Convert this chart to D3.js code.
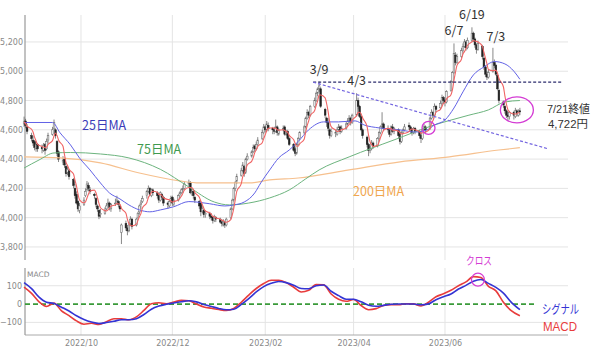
<!DOCTYPE html>
<html>
<head>
<meta charset="utf-8">
<script src="https://cdn.jsdelivr.net/npm/d3@7"></script>
<style>
  body { margin: 0; background: #fff; }
  svg { display: block; font-family: "Noto Sans CJK JP", "Noto Sans", sans-serif; }
</style>
</head>
<body>
<div id="chart"></div>
<script>
//Datos: velas diarias [apertura, máximo, mínimo, cierre]
const ohlc = [
  //Aug 24-26
  [4640,4690,4620,4655],[4660,4675,4610,4630],[4620,4640,4570,4590],
  //Aug 29 - Sep 2
  [4560,4580,4520,4540],[4530,4560,4490,4510],[4520,4530,4460,4480],[4470,4520,4450,4500],[4500,4510,4450,4470],
  [4480,4500,4440,4470],[4460,4510,4450,4490],[4500,4510,4430,4460],[4470,4540,4460,4520],[4530,4580,4510,4560],
  [4570,4620,4560,4600],[4610,4670,4600,4650],[4600,4610,4540,4560],[4520,4530,4420,4440],[4450,4460,4380,4400],
  [4380,4420,4360,4390],[4400,4410,4340,4360],[4350,4360,4280,4300],[4310,4350,4290,4330],[4320,4330,4260,4280],
  [4260,4270,4200,4220],[4200,4230,4130,4150],[4160,4180,4090,4100],[4110,4120,4040,4060],[4050,4100,4030,4080],
  //Oct
  [4090,4140,4080,4120],[4150,4200,4140,4180],[4190,4250,4180,4230],[4220,4240,4180,4200],[4190,4210,4160,4180],
  [4160,4170,4130,4150],[4130,4140,4070,4090],[4080,4090,4040,4060],[4050,4060,3990,4010],[4020,4060,4000,4030],
  [4030,4070,4020,4050],[4060,4100,4050,4080],[4090,4130,4080,4100],[4100,4110,4050,4070],[4060,4100,4040,4090],
  [4100,4130,4080,4100],[4110,4150,4100,4120],[4110,4120,4070,4090],[4080,4090,4040,4060],[3900,3960,3820,3950],
  //Nov
  [3960,3980,3910,3930],[3930,3950,3880,3910],[3910,3970,3900,3950],[3960,4010,3950,3990],[3990,4000,3920,3940],
  [3950,4000,3940,3990],[4000,4040,3990,4030],[4040,4090,4020,4080],[4090,4120,4060,4100],[4110,4150,4100,4130],
  [4150,4190,4130,4180],[4180,4220,4170,4200],[4200,4210,4150,4160],[4150,4200,4140,4190],[4190,4200,4150,4170],
  [4170,4180,4130,4150],[4150,4160,4100,4120],[4120,4180,4110,4170],[4160,4170,4120,4140],[4140,4150,4080,4100],
  [4100,4110,4060,4090],[4080,4120,4070,4110],[4110,4150,4100,4130],[4140,4150,4080,4100],[4090,4130,4080,4120],
  //Dec
  [4120,4160,4110,4150],[4150,4180,4130,4170],[4170,4200,4160,4190],[4190,4220,4170,4200],[4200,4250,4190,4230],
  [4230,4260,4210,4240],[4240,4250,4160,4170],[4170,4200,4150,4180],[4180,4190,4130,4150],[4140,4150,4100,4120],
  [4110,4120,4060,4080],[4100,4110,4010,4040],[4040,4080,4030,4060],[4050,4060,4000,4020],[4020,4050,4000,4030],
  [4030,4040,3990,4010],[4010,4030,3980,4000],[4000,4010,3960,3980],[3980,4020,3970,4010],[4000,4010,3970,3990],
  //Jan
  [3990,4000,3960,3970],[3970,3980,3940,3960],[3950,3990,3940,3975],[3970,3980,3930,3950],[3950,4000,3940,3990],
  [4000,4070,3990,4060],[4060,4130,4050,4120],[4120,4210,4110,4200],[4200,4250,4180,4240],[4250,4300,4230,4280],
  [4290,4340,4280,4320],[4320,4380,4310,4360],[4350,4360,4280,4300],[4310,4410,4300,4400],[4400,4440,4390,4420],
  [4420,4460,4410,4450],[4450,4500,4440,4480],[4490,4500,4450,4470],[4470,4520,4460,4500],[4500,4550,4490,4530],
  //Feb
  [4540,4600,4530,4580],[4580,4640,4570,4620],[4620,4630,4580,4600],[4600,4660,4590,4640],[4630,4650,4590,4610],
  [4610,4620,4570,4600],[4600,4620,4570,4590],[4590,4670,4580,4620],[4620,4630,4560,4580],[4570,4610,4560,4600],
  [4600,4630,4590,4610],[4620,4630,4560,4570],[4570,4600,4560,4590],[4590,4600,4530,4540],[4540,4550,4490,4500],
  [4500,4510,4450,4460],[4470,4480,4420,4440],[4440,4510,4430,4500],[4500,4550,4490,4540],[4540,4590,4530,4580],
  //Mar
  [4580,4630,4570,4620],[4620,4690,4610,4680],[4680,4740,4670,4720],[4720,4730,4680,4700],[4700,4770,4690,4760],
  [4760,4820,4750,4800],[4800,4860,4790,4850],[4850,4890,4830,4880],[4880,4930,4860,4900],[4880,4890,4750,4760],
  [4740,4750,4680,4700],[4680,4690,4620,4650],[4650,4680,4590,4610],[4600,4610,4540,4560],[4560,4610,4550,4590],
  [4580,4600,4550,4580],[4570,4620,4560,4600],[4600,4640,4590,4620],[4620,4630,4570,4590],[4590,4630,4580,4610],
  [4610,4650,4600,4640],[4640,4680,4630,4660],[4660,4700,4650,4680],[4680,4690,4630,4650],[4650,4710,4640,4700],
  //Apr
  [4700,4850,4690,4800],[4800,4820,4740,4760],[4760,4770,4680,4690],[4690,4700,4590,4600],[4600,4610,4540,4560],
  [4550,4560,4480,4500],[4500,4510,4420,4460],[4460,4490,4440,4470],[4470,4530,4460,4510],[4510,4520,4470,4490],
  [4490,4550,4480,4540],[4540,4590,4530,4580],[4580,4630,4570,4620],[4620,4720,4610,4640],[4640,4650,4590,4610],
  [4610,4630,4580,4600],[4600,4610,4550,4570],[4570,4630,4560,4620],[4620,4640,4580,4590],[4590,4620,4570,4610],
  //May
  [4600,4610,4540,4560],[4570,4590,4500,4520],[4520,4590,4510,4580],[4580,4610,4570,4600],[4600,4640,4590,4620],
  [4630,4650,4600,4620],[4620,4630,4580,4600],[4600,4610,4560,4580],[4580,4620,4570,4610],[4610,4620,4570,4590],
  [4590,4600,4540,4560],[4560,4570,4510,4540],[4540,4610,4530,4600],[4600,4640,4590,4620],[4620,4630,4580,4600],
  [4610,4690,4600,4680],[4680,4740,4670,4720],[4720,4730,4680,4700],[4700,4780,4690,4760],[4760,4770,4720,4740],
  [4750,4800,4740,4780],[4780,4840,4770,4820],[4820,4830,4780,4800],[4800,4810,4760,4790],[4790,4870,4780,4860],
  //Jun
  [4870,4940,4860,4930],[4930,5000,4920,4990],[4990,5190,4980,5120],[5110,5130,5040,5060],[5060,5120,5050,5100],
  [5100,5160,5090,5140],[5140,5190,5130,5170],[5170,5220,5160,5200],[5200,5210,5140,5160],[5160,5230,5150,5210],
  [5210,5300,5200,5260],[5260,5270,5200,5220],[5220,5230,5160,5180],[5180,5190,5120,5150],[5150,5210,5140,5190],
  [5170,5180,5080,5100],[5090,5100,5010,5030],[5030,5040,4960,4980],[4980,5000,4940,4960],[4960,5010,4950,4990],
  //Jul
  [5000,5160,4990,5060],[5060,5080,5020,5040],[5040,5050,4970,4980],[4970,4980,4870,4880],[4870,4880,4780,4800],
  [4790,4800,4750,4770],[4760,4770,4710,4730],[4730,4740,4680,4700],[4700,4720,4660,4690],[4690,4730,4670,4720],
  [4720,4730,4670,4700],[4690,4750,4680,4730],[4730,4740,4690,4710],[4700,4740,4690,4720],[4730,4750,4700,4722]
];

//Medias móviles (lecturas del gráfico)
const ma25 = [
  ["2022-08-24",4650],["2022-09-12",4650],["2022-09-17",4580],["2022-09-24",4497],["2022-09-30",4408],
  ["2022-10-07",4326],["2022-10-14",4237],["2022-10-20",4169],["2022-10-27",4128],["2022-11-02",4087],
  ["2022-11-09",4053],["2022-11-16",4040],["2022-11-23",4053],["2022-12-02",4075],["2022-12-12",4110],
  ["2022-12-19",4105],["2022-12-26",4095],["2023-01-05",4080],["2023-01-11",4087],["2023-01-18",4107],
  ["2023-01-25",4169],["2023-01-29",4237],["2023-02-04",4326],["2023-02-10",4408],["2023-02-17",4462],
  ["2023-02-23",4520],["2023-03-02",4600],["2023-03-12",4654],["2023-03-22",4654],["2023-04-02",4661],
  ["2023-04-08",4633],["2023-04-18",4613],["2023-05-02",4599],["2023-05-12",4585],["2023-05-20",4599],
  ["2023-05-25",4633],["2023-06-01",4667],["2023-06-07",4749],["2023-06-13",4859],["2023-06-20",4975],
  ["2023-06-27",5029],["2023-07-04",5066],["2023-07-11",5050],["2023-07-17",5000],["2023-07-21",4945]
];
const ma75 = [
  ["2022-08-24",4339],["2022-09-03",4394],["2022-09-13",4442],["2022-09-24",4445],["2022-10-14",4435],
  ["2022-11-02",4408],["2022-11-23",4330],["2022-12-12",4210],["2022-12-29",4107],["2023-01-08",4087],
  ["2023-01-21",4100],["2023-02-04",4135],["2023-02-17",4189],["2023-02-28",4265],["2023-03-09",4326],
  ["2023-03-29",4415],["2023-04-28",4531],["2023-05-24",4630],["2023-06-17",4700],["2023-06-30",4736],
  ["2023-07-11",4790],["2023-07-21",4800]
];
const ma200 = [
  ["2022-08-24",4415],["2022-09-17",4408],["2022-10-14",4374],["2022-11-09",4305],["2022-12-06",4251],
  ["2022-12-19",4237],["2023-01-21",4237],["2023-02-04",4258],["2023-02-23",4271],["2023-03-29",4326],
  ["2023-05-02",4381],["2023-06-04",4415],["2023-07-07",4462],["2023-07-21",4478]
];

//MACD y señal
const macdDates = ["2022-08-24","2022-08-29","2022-09-03","2022-09-08","2022-09-13","2022-09-18","2022-09-23","2022-09-28",
  "2022-10-03","2022-10-08","2022-10-13","2022-10-18","2022-10-23","2022-10-28","2022-11-02","2022-11-07","2022-11-12",
  "2022-11-17","2022-11-22","2022-11-27","2022-12-02","2022-12-07","2022-12-12","2022-12-17","2022-12-22","2022-12-27",
  "2023-01-01","2023-01-06","2023-01-11","2023-01-16","2023-01-21","2023-01-26","2023-01-31","2023-02-05","2023-02-10",
  "2023-02-15","2023-02-20","2023-02-25","2023-03-02","2023-03-07","2023-03-12","2023-03-17","2023-03-22","2023-03-27",
  "2023-04-01","2023-04-06","2023-04-11","2023-04-16","2023-04-21","2023-04-26","2023-05-01","2023-05-06","2023-05-11",
  "2023-05-16","2023-05-21","2023-05-26","2023-05-31","2023-06-05","2023-06-10","2023-06-15","2023-06-20","2023-06-25",
  "2023-06-30","2023-07-05","2023-07-10","2023-07-15","2023-07-21"];
const macdValues = [92,58,12,-13,5,-37,-63,-92,-110,-105,
  -112,-96,-80,-80,-86,-70,-35,2,7,2,
  11,20,18,0,-16,-23,-30,-35,-24,10,
  49,85,112,130,130,117,92,66,75,106,
  105,55,26,15,25,-8,-31,-25,-8,-3,
  -4,2,1,-11,10,40,56,75,100,121,
  150,145,97,72,10,-35,-64];
const signalValues = [117,84,38,10,3,-17,-38,-64,-84,-98,
  -106,-101,-94,-86,-86,-80,-57,-28,-11,-1,
  6,13,18,12,-2,-13,-24,-31,-28,-2,
  30,66,95,113,123,117,103,85,84,100,
  104,70,46,26,26,12,-6,-12,-7,-1,
  0,0,0,-4,1,24,40,55,82,102,
  125,134,113,91,60,12,-31];

//Ejes
const priceTicks = [3800,4000,4200,4400,4600,4800,5000,5200];
const macdTicks = [-100,0,100];
const monthTicks = ["2022-10-01","2022-12-01","2023-02-01","2023-04-01","2023-06-01"];

//Colores
const COLOR_MA5 = '#f06464', COLOR_MA25 = '#6262e6', COLOR_MA75 = '#6cb47e', COLOR_MA200 = '#f6c08e',
  COLOR_MACD = '#e83c3c', COLOR_SIGNAL = '#3434d4', COLOR_MARK = '#d43cd4', COLOR_GRID = '#e4e4e4';

const parse = d3.timeParse("%Y-%m-%d");
const width = 600, height = 348;
const main = {left: 25, right: 568, top: 15, bottom: 260};
const sub = {top: 270, bottom: 335};

//Días hábiles
const days = d3.timeDay.range(new Date(2022,7,24), new Date(2023,6,22))
  .filter(function(d) { return d.getDay() !== 0 && d.getDay() !== 6; });
const candles = ohlc.map(function(r, i) {
  return {date: days[i], o: r[0], h: r[1], l: r[2], c: r[3]};
});
const ma5 = candles.map(function(d, i) {
  return [d.date, d3.mean(candles.slice(Math.max(0, i - 4), i + 1), function(e) { return e.c; })];
});

const svg = d3.select("#chart").append("svg")
  .attr("width", width).attr("height", height);

let x = d3.scaleTime()
  .domain([new Date(2022,7,24,15), new Date(2023,7,22,3)])
  .range([main.left, main.right]);
let y = d3.scaleLinear().domain([3711, 5384]).range([main.bottom, main.top]);
let yM = d3.scaleLinear().domain([-169, 186]).range([sub.bottom, sub.top]);

//Rejilla
const grid = svg.append("g");
grid.selectAll(".hg").data(priceTicks).enter().append("line")
  .attr("x1", main.left).attr("x2", main.right)
  .attr("y1", function(d) { return y(d); }).attr("y2", function(d) { return y(d); })
  .attr("stroke", COLOR_GRID).attr("stroke-width", 1);
grid.selectAll(".vg").data(monthTicks).enter().append("line")
  .attr("x1", function(d) { return x(parse(d)); }).attr("x2", function(d) { return x(parse(d)); })
  .attr("y1", main.top).attr("y2", main.bottom)
  .attr("stroke", COLOR_GRID).attr("stroke-width", 1);
grid.selectAll(".hgm").data([-100, 100]).enter().append("line")
  .attr("x1", main.left).attr("x2", main.right)
  .attr("y1", function(d) { return yM(d); }).attr("y2", function(d) { return yM(d); })
  .attr("stroke", COLOR_GRID).attr("stroke-width", 1);
grid.selectAll(".vgm").data(monthTicks).enter().append("line")
  .attr("x1", function(d) { return x(parse(d)); }).attr("x2", function(d) { return x(parse(d)); })
  .attr("y1", sub.top - 2).attr("y2", sub.bottom)
  .attr("stroke", COLOR_GRID).attr("stroke-width", 1);

//Ejes
const yAxis = svg.append("g")
  .attr("transform", "translate(" + main.left + ",0)")
  .call(d3.axisLeft(y).tickValues(priceTicks).tickFormat(d3.format(",")).tickSize(0).tickPadding(2));
yAxis.select(".domain").remove();
yAxis.selectAll("text").attr("fill", "#888").style("font-size", "8px").style("font-family", "DejaVu Sans, sans-serif");

const yAxisM = svg.append("g")
  .attr("transform", "translate(" + (main.left - 1) + ",0)")
  .call(d3.axisLeft(yM).tickValues(macdTicks).tickSize(0).tickPadding(2));
yAxisM.select(".domain").remove();
yAxisM.selectAll("text").attr("fill", "#888").style("font-size", "8px").style("font-family", "DejaVu Sans, sans-serif");

const xAxis = svg.append("g")
  .attr("transform", "translate(0," + sub.bottom + ")")
  .call(d3.axisBottom(x).tickValues(monthTicks.map(parse)).tickFormat(d3.timeFormat("%Y/%m")).tickSize(0).tickPadding(5));
xAxis.select(".domain").attr("stroke", "#aaa").attr("d", "M" + main.left + ",0H" + main.right);
xAxis.selectAll("text").attr("fill", "#888").style("font-size", "8px").style("font-family", "DejaVu Sans, sans-serif");

svg.append("line").attr("x1", main.left).attr("x2", main.left).attr("y1", main.top).attr("y2", main.bottom)
  .attr("stroke", "#999").attr("stroke-width", 1.2);
svg.append("line").attr("x1", main.left).attr("x2", main.left).attr("y1", sub.top - 2).attr("y2", sub.bottom)
  .attr("stroke", "#999").attr("stroke-width", 1.2);

svg.append("text").attr("x", main.left + 2).attr("y", sub.top + 7)
  .attr("fill", "#888").style("font-size", "7.5px").style("font-family", "DejaVu Sans, sans-serif").text("MACD");

//Medias móviles
function maLine(yScale) {
  return d3.line()
    .x(function(d) { return x(d[0] instanceof Date ? d[0] : parse(d[0])); })
    .y(function(d) { return yScale(d[1]); })
    .curve(d3.curveMonotoneX);
}
const lines = svg.append("g").attr("fill", "none");
lines.append("path").datum(ma200).attr("d", maLine(y)).attr("stroke", COLOR_MA200).attr("stroke-width", 1.2);
lines.append("path").datum(ma75).attr("d", maLine(y)).attr("stroke", COLOR_MA75).attr("stroke-width", 1);
lines.append("path").datum(ma25).attr("d", maLine(y)).attr("stroke", COLOR_MA25).attr("stroke-width", 1);

//Velas
const cw = 1.7;
const cg = svg.append("g");
cg.selectAll(".wick").data(candles).enter().append("line")
  .attr("x1", function(d) { return x(d.date); }).attr("x2", function(d) { return x(d.date); })
  .attr("y1", function(d) { return y(d.h); }).attr("y2", function(d) { return y(d.l); })
  .attr("stroke", "#555").attr("stroke-width", 0.7);
cg.selectAll(".body").data(candles).enter().append("rect")
  .attr("x", function(d) { return x(d.date) - cw / 2; })
  .attr("y", function(d) { return y(Math.max(d.o, d.c)); })
  .attr("width", cw)
  .attr("height", function(d) { return Math.max(0.8, Math.abs(y(d.o) - y(d.c))); })
  .attr("fill", function(d) { return d.c >= d.o ? "#ececec" : "#222"; })
  .attr("stroke", function(d) { return d.c >= d.o ? "#666" : "#222"; })
  .attr("stroke-width", 0.5);

lines.raise();
svg.append("path").datum(ma5).attr("fill", "none").attr("d", maLine(y))
  .attr("stroke", COLOR_MA5).attr("stroke-width", 1.1);

//Líneas de referencia
const topPrice = 4925;
svg.append("line")
  .attr("x1", x(parse("2023-03-05"))).attr("x2", x(parse("2023-08-18")))
  .attr("y1", y(topPrice)).attr("y2", y(topPrice))
  .attr("stroke", "#2d2d6e").attr("stroke-width", 1.2).attr("stroke-dasharray", "3,2");
svg.append("line")
  .attr("x1", x(parse("2023-03-05"))).attr("x2", x(parse("2023-08-09")))
  .attr("y1", y(topPrice)).attr("y2", y(4470))
  .attr("stroke", "#7466e0").attr("stroke-width", 1.2).attr("stroke-dasharray", "3,2");

//MACD
svg.append("line")
  .attr("x1", main.left).attr("x2", x(parse("2023-08-01")))
  .attr("y1", yM(0)).attr("y2", yM(0))
  .attr("stroke", "#3a9a3a").attr("stroke-width", 1.8).attr("stroke-dasharray", "5,3");
const macdLine = d3.line()
  .x(function(d, i) { return x(parse(macdDates[i])); })
  .y(function(d) { return yM(d); })
  .curve(d3.curveMonotoneX);
svg.append("path").datum(macdValues).attr("fill", "none").attr("d", macdLine)
  .attr("stroke", COLOR_MACD).attr("stroke-width", 1.6);
svg.append("path").datum(signalValues).attr("fill", "none").attr("d", macdLine)
  .attr("stroke", COLOR_SIGNAL).attr("stroke-width", 1.6);

//Marcas
svg.append("circle").attr("cx", x(parse("2023-05-21"))).attr("cy", y(4613)).attr("r", 6.5)
  .attr("fill", "none").attr("stroke", COLOR_MARK).attr("stroke-width", 1.3);
svg.append("ellipse").attr("cx", x(parse("2023-07-19"))).attr("cy", y(4736)).attr("rx", 16.5).attr("ry", 13)
  .attr("fill", "none").attr("stroke", COLOR_MARK).attr("stroke-width", 1.3);
svg.append("circle").attr("cx", x(parse("2023-06-23"))).attr("cy", yM(133)).attr("r", 6.5)
  .attr("fill", "none").attr("stroke", COLOR_MARK).attr("stroke-width", 1.3);

//Textos
const TIGHT_FONT = '"Liberation Sans", "Noto Sans CJK JP", sans-serif';
function label(txt, px, py, color, size, anchor, len, family) {
  const t = svg.append("text").attr("x", px).attr("y", py)
    .attr("fill", color).attr("text-anchor", anchor || "start")
    .style("font-size", size + "px").text(txt);
  if (len) t.attr("textLength", len).attr("lengthAdjust", "spacingAndGlyphs");
  if (family) t.style("font-family", family);
  return t;
}
label("25日MA", 82, 130, "#3b3bb8", 12.5);
label("75日MA", 137, 153.5, "#3f9a4f", 12.5);
label("200日MA", 353, 195.5, "#f0a64e", 12.5);
label("3/9", x(parse("2023-03-09")), 74, "#333", 12.5, "middle");
label("4/3", x(parse("2023-04-03")), 84.5, "#333", 12.5, "middle")
  .attr("stroke", "#fff").attr("stroke-width", 5).attr("paint-order", "stroke");
label("6/7", x(parse("2023-06-07")), 34.5, "#333", 12.5, "middle");
label("6/19", x(parse("2023-06-19")), 18.5, "#333", 12.5, "middle");
label("7/3", x(parse("2023-07-03")) + 3, 40.5, "#333", 12.5, "middle");
label("7/21終値", 547, 113, "#333", 11.5, "start", 43, TIGHT_FONT);
label("4,722円", 548, 127.5, "#333", 11.5, "start", 40, TIGHT_FONT);
label("クロス", 466, 264.5, COLOR_MARK, 11.5, "start", 26);
label("シグナル", 542, 314, COLOR_SIGNAL, 12.5, "start", 37, TIGHT_FONT);
label("MACD", 543, 331, COLOR_MACD, 12.5, "start", 34, TIGHT_FONT);
</script>
</body>
</html>
